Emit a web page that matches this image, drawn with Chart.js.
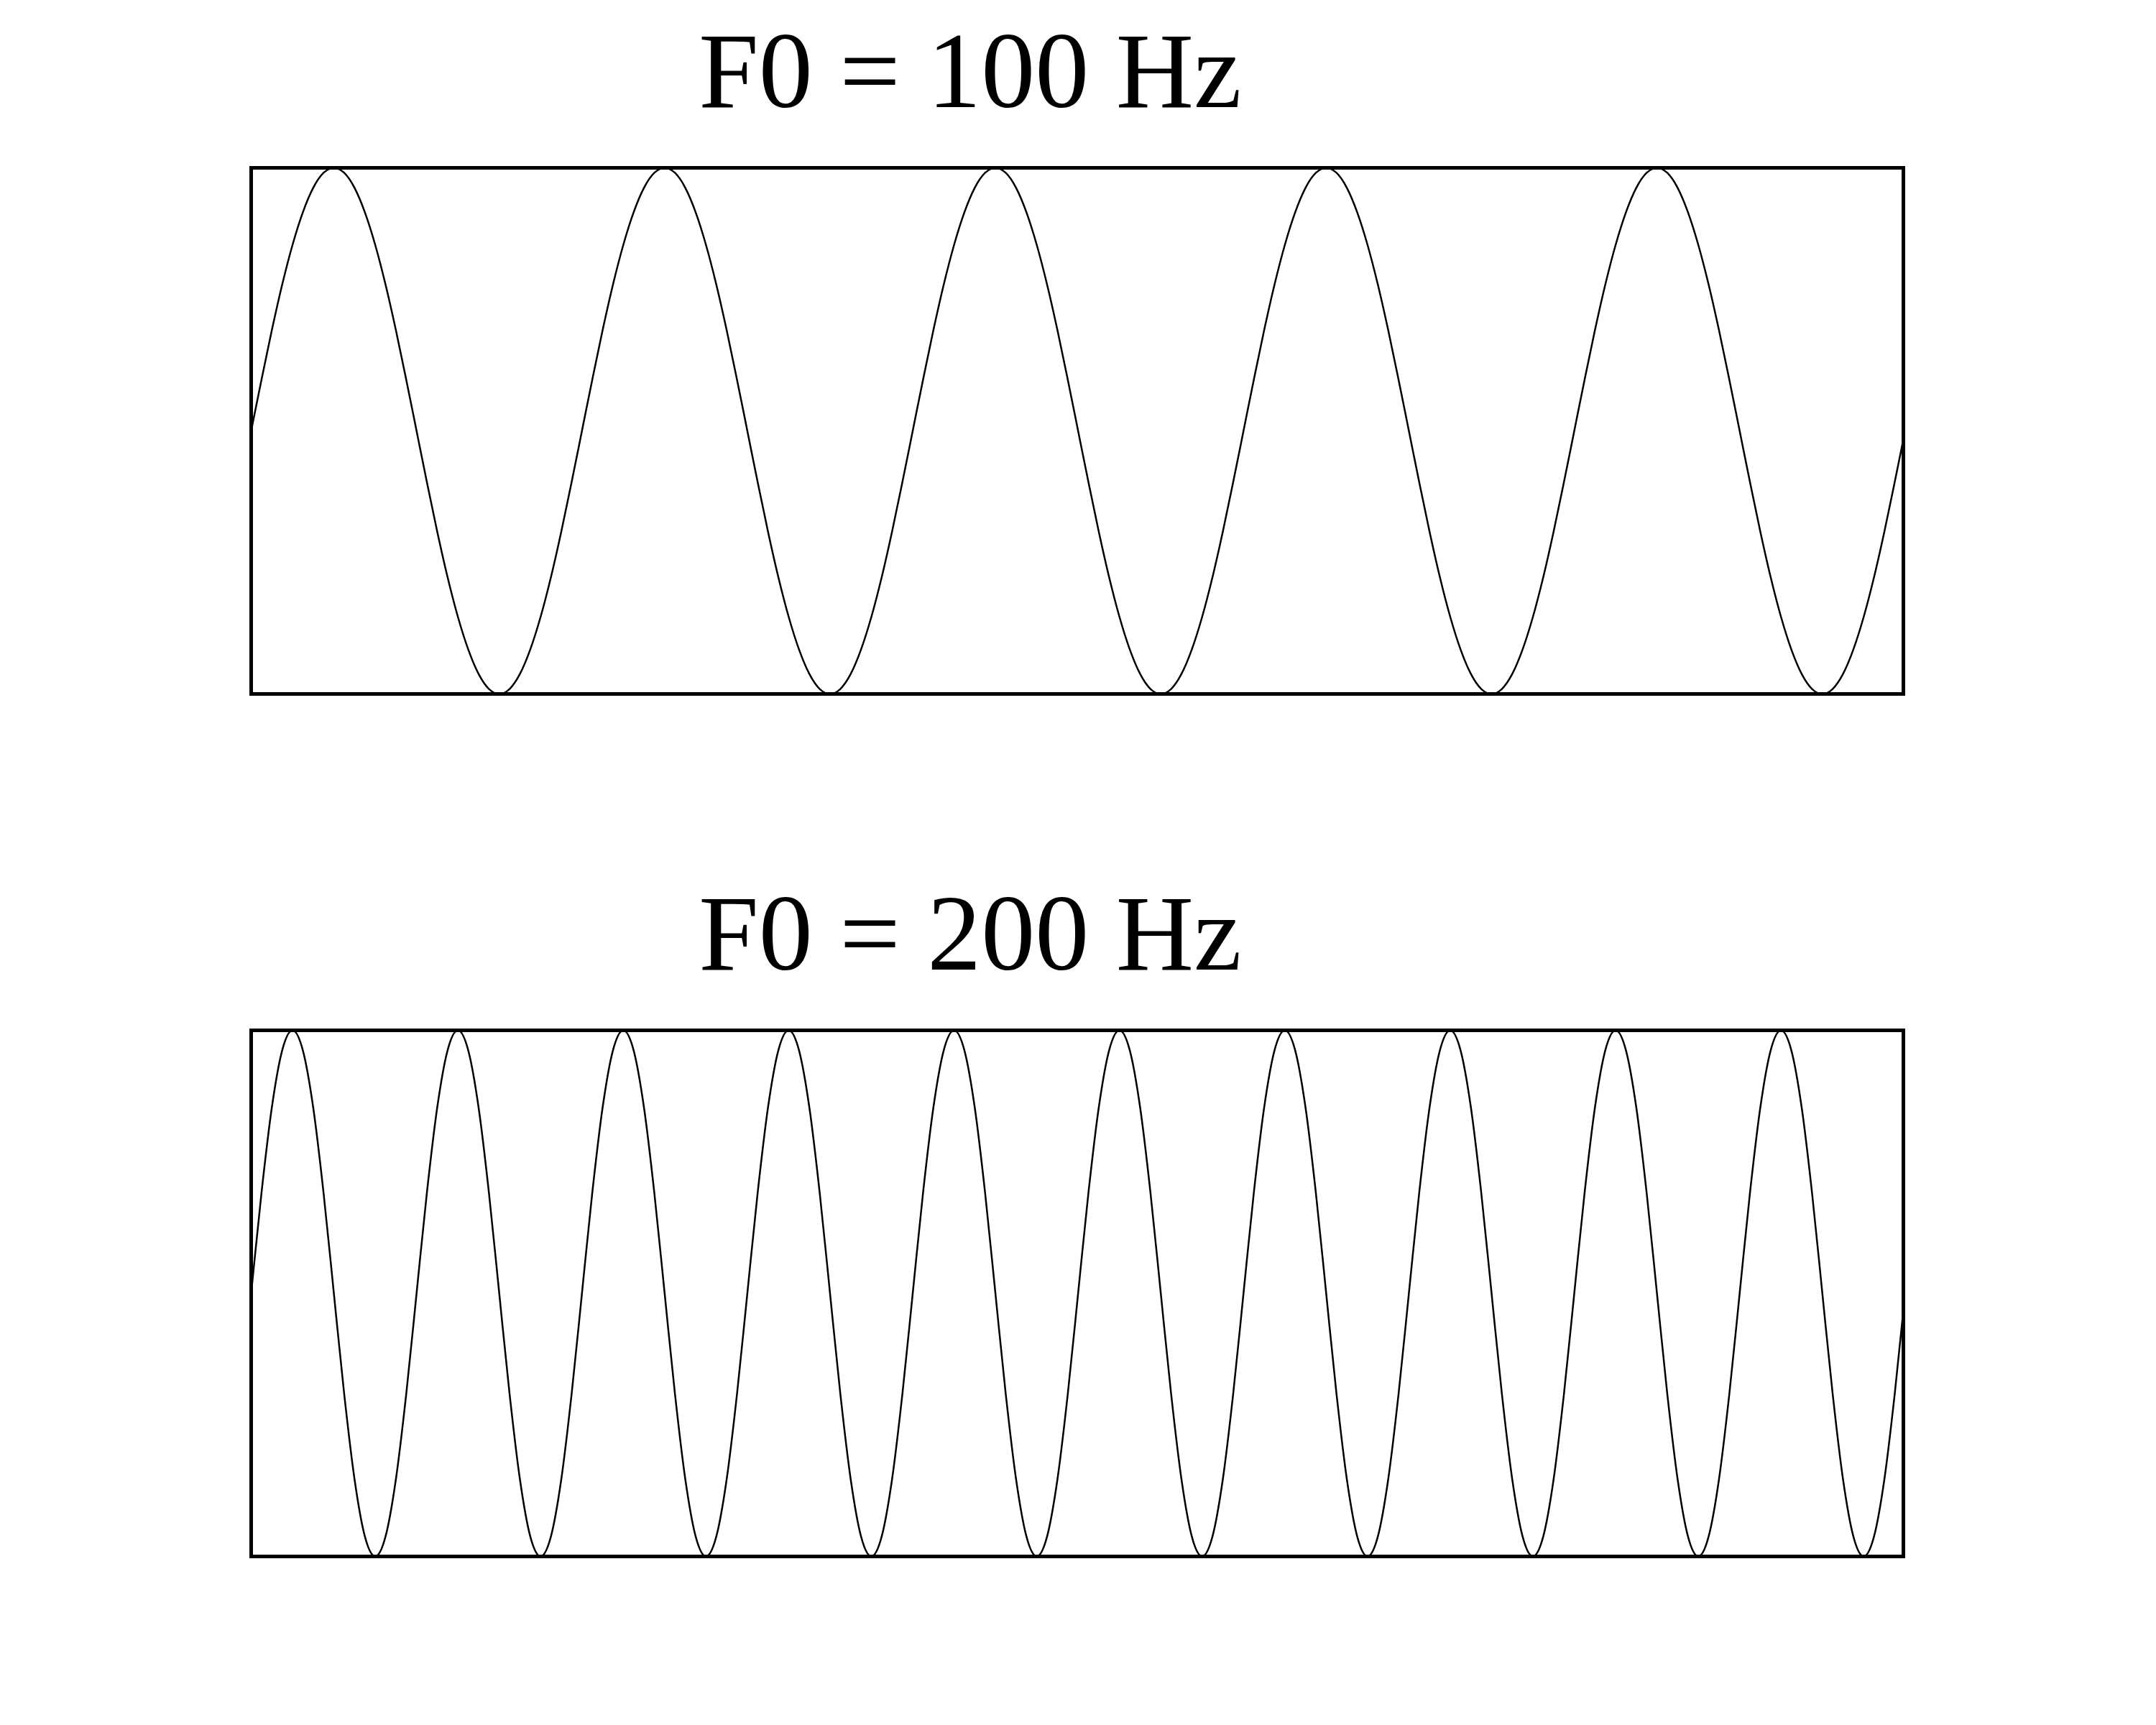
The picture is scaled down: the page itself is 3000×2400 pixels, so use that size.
<!DOCTYPE html>
<html>
<head>
<meta charset="utf-8">
<script src="https://cdn.jsdelivr.net/npm/chart.js@4.4.1/dist/chart.umd.min.js"></script>
<style>
  body { margin: 0; background: #fff; }
  #page { position: relative; width: 3000px; height: 2400px; }
  .title {
    position: absolute; left: 0; width: 2700px; text-align: center;
    font-family: "Liberation Serif", "Times New Roman", serif;
    font-size: 150px; line-height: 150px; color: #000;
  }
  .box { position: absolute; left: 0; width: 3000px; height: 1200px; }
</style>
</head>
<body>
<div id="page">
  <div class="title" id="title-1" style="top: 23px;"></div>
  <div class="box" style="top: 0;"><canvas id="wave-1"></canvas></div>
  <div class="title" id="title-2" style="top: 1223px;"></div>
  <div class="box" style="top: 1200px;"><canvas id="wave-2"></canvas></div>
</div>
<script>
const titles = ['F0 = 100 Hz', 'F0 = 200 Hz'];

// time of each sample (ms)
const timeMs = [
  0, 0.3125, 0.625, 0.9375, 1.25, 1.5625, 1.875, 2.1875,
  2.5, 2.8125, 3.125, 3.4375, 3.75, 4.0625, 4.375, 4.6875,
  5, 5.3125, 5.625, 5.9375, 6.25, 6.5625, 6.875, 7.1875,
  7.5, 7.8125, 8.125, 8.4375, 8.75, 9.0625, 9.375, 9.6875,
  10, 10.3125, 10.625, 10.9375, 11.25, 11.5625, 11.875, 12.1875,
  12.5, 12.8125, 13.125, 13.4375, 13.75, 14.0625, 14.375, 14.6875,
  15, 15.3125, 15.625, 15.9375, 16.25, 16.5625, 16.875, 17.1875,
  17.5, 17.8125, 18.125, 18.4375, 18.75, 19.0625, 19.375, 19.6875,
  20, 20.3125, 20.625, 20.9375, 21.25, 21.5625, 21.875, 22.1875,
  22.5, 22.8125, 23.125, 23.4375, 23.75, 24.0625, 24.375, 24.6875,
  25, 25.3125, 25.625, 25.9375, 26.25, 26.5625, 26.875, 27.1875,
  27.5, 27.8125, 28.125, 28.4375, 28.75, 29.0625, 29.375, 29.6875,
  30, 30.3125, 30.625, 30.9375, 31.25, 31.5625, 31.875, 32.1875,
  32.5, 32.8125, 33.125, 33.4375, 33.75, 34.0625, 34.375, 34.6875,
  35, 35.3125, 35.625, 35.9375, 36.25, 36.5625, 36.875, 37.1875,
  37.5, 37.8125, 38.125, 38.4375, 38.75, 39.0625, 39.375, 39.6875,
  40, 40.3125, 40.625, 40.9375, 41.25, 41.5625, 41.875, 42.1875,
  42.5, 42.8125, 43.125, 43.4375, 43.75, 44.0625, 44.375, 44.6875,
  45, 45.3125, 45.625, 45.9375, 46.25, 46.5625, 46.875, 47.1875,
  47.5, 47.8125, 48.125, 48.4375, 48.75, 49.0625, 49.375, 49.6875,
  50
];

// amplitude of the 100 Hz wave
const wave100 = [
  0, 0.195, 0.383, 0.556, 0.707, 0.831, 0.924, 0.981,
  1, 0.981, 0.924, 0.831, 0.707, 0.556, 0.383, 0.195,
  0, -0.195, -0.383, -0.556, -0.707, -0.831, -0.924, -0.981,
  -1, -0.981, -0.924, -0.831, -0.707, -0.556, -0.383, -0.195,
  0, 0.195, 0.383, 0.556, 0.707, 0.831, 0.924, 0.981,
  1, 0.981, 0.924, 0.831, 0.707, 0.556, 0.383, 0.195,
  0, -0.195, -0.383, -0.556, -0.707, -0.831, -0.924, -0.981,
  -1, -0.981, -0.924, -0.831, -0.707, -0.556, -0.383, -0.195,
  0, 0.195, 0.383, 0.556, 0.707, 0.831, 0.924, 0.981,
  1, 0.981, 0.924, 0.831, 0.707, 0.556, 0.383, 0.195,
  0, -0.195, -0.383, -0.556, -0.707, -0.831, -0.924, -0.981,
  -1, -0.981, -0.924, -0.831, -0.707, -0.556, -0.383, -0.195,
  0, 0.195, 0.383, 0.556, 0.707, 0.831, 0.924, 0.981,
  1, 0.981, 0.924, 0.831, 0.707, 0.556, 0.383, 0.195,
  0, -0.195, -0.383, -0.556, -0.707, -0.831, -0.924, -0.981,
  -1, -0.981, -0.924, -0.831, -0.707, -0.556, -0.383, -0.195,
  0, 0.195, 0.383, 0.556, 0.707, 0.831, 0.924, 0.981,
  1, 0.981, 0.924, 0.831, 0.707, 0.556, 0.383, 0.195,
  0, -0.195, -0.383, -0.556, -0.707, -0.831, -0.924, -0.981,
  -1, -0.981, -0.924, -0.831, -0.707, -0.556, -0.383, -0.195,
  0
];

// amplitude of the 200 Hz wave
const wave200 = [
  0, 0.383, 0.707, 0.924, 1, 0.924, 0.707, 0.383,
  0, -0.383, -0.707, -0.924, -1, -0.924, -0.707, -0.383,
  0, 0.383, 0.707, 0.924, 1, 0.924, 0.707, 0.383,
  0, -0.383, -0.707, -0.924, -1, -0.924, -0.707, -0.383,
  0, 0.383, 0.707, 0.924, 1, 0.924, 0.707, 0.383,
  0, -0.383, -0.707, -0.924, -1, -0.924, -0.707, -0.383,
  0, 0.383, 0.707, 0.924, 1, 0.924, 0.707, 0.383,
  0, -0.383, -0.707, -0.924, -1, -0.924, -0.707, -0.383,
  0, 0.383, 0.707, 0.924, 1, 0.924, 0.707, 0.383,
  0, -0.383, -0.707, -0.924, -1, -0.924, -0.707, -0.383,
  0, 0.383, 0.707, 0.924, 1, 0.924, 0.707, 0.383,
  0, -0.383, -0.707, -0.924, -1, -0.924, -0.707, -0.383,
  0, 0.383, 0.707, 0.924, 1, 0.924, 0.707, 0.383,
  0, -0.383, -0.707, -0.924, -1, -0.924, -0.707, -0.383,
  0, 0.383, 0.707, 0.924, 1, 0.924, 0.707, 0.383,
  0, -0.383, -0.707, -0.924, -1, -0.924, -0.707, -0.383,
  0, 0.383, 0.707, 0.924, 1, 0.924, 0.707, 0.383,
  0, -0.383, -0.707, -0.924, -1, -0.924, -0.707, -0.383,
  0, 0.383, 0.707, 0.924, 1, 0.924, 0.707, 0.383,
  0, -0.383, -0.707, -0.924, -1, -0.924, -0.707, -0.383,
  0
];

// visible time window (ms)
const xMin = 0;
const xMax = 49.95;

// box around the plot area
const frame = {
    id: 'frame',
    afterDraw(chart) {
        const a = chart.chartArea;
        const ctx = chart.ctx;
        ctx.save();
        ctx.strokeStyle = '#000';
        ctx.lineWidth = 5;
        ctx.strokeRect(a.left, a.top, a.right - a.left, a.bottom - a.top);
        ctx.restore();
    }
};

function drawWave(canvasId, values) {
    const ctx = document.getElementById(canvasId).getContext('2d');
    return new Chart(ctx, {
        type: 'line',
        data: {
            labels: timeMs,
            datasets: [{
                data: values,
                borderColor: '#000',
                borderWidth: 2.5,
                pointRadius: 0,
                fill: false,
                cubicInterpolationMode: 'monotone'
            }]
        },
        options: {
            responsive: true,
            maintainAspectRatio: false,
            animation: false,
            layout: { padding: { left: 349.5, right: 351.5, top: 233.5, bottom: 234.5 } },
            scales: {
                x: { type: 'linear', min: xMin, max: xMax, display: false },
                y: { min: -1, max: 1, display: false }
            },
            plugins: {
                legend: { display: false },
                tooltip: { enabled: false }
            }
        },
        plugins: [frame]
    });
}

document.getElementById('title-1').textContent = titles[0];
document.getElementById('title-2').textContent = titles[1];
drawWave('wave-1', wave100);
drawWave('wave-2', wave200);
</script>
</body>
</html>
